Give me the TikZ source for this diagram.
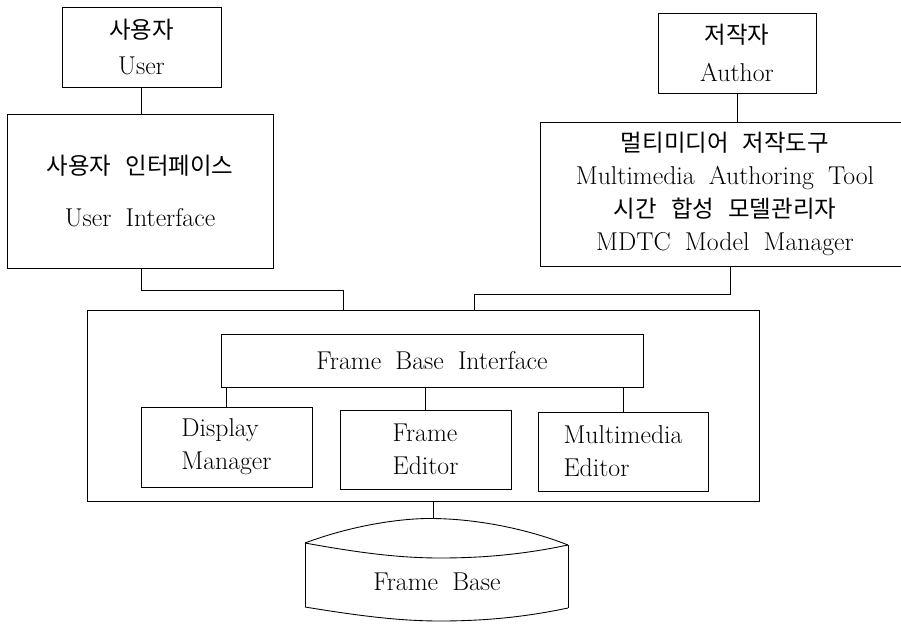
\documentclass[tikz,border=0pt]{standalone}
\usepackage{fontspec}
\newfontfamily\kr[WordSpace=1.8]{Noto Sans CJK KR}
\newcommand{\hg}[1]{{\kr\fontsize{20}{28}\selectfont #1}}
\newcommand{\lfont}{\fontsize{22}{28}\selectfont\spaceskip=0.55em\relax}
\tikzset{
  blk/.style={draw, inner sep=0pt, align=center, font=\lfont},
  sz/.style 2 args={minimum width=#1*0.03cm, minimum height=#2*0.03cm},
}

\begin{document}
\begin{tikzpicture}[x=0.03cm,y=-0.03cm,line width=0.75pt]
\clip (0,0) rectangle (901,624);
% top boxes
\node[blk,sz={159}{80}] (user) at (141.5,47) {\hg{사용자}\\[2pt]User};
\node[blk,sz={266}{154}] (ui) at (140,191) {\hg{사용자 인터페이스}\\[16pt]User Interface};
\node[blk,sz={158}{80}] (author) at (737,53) {\hg{저작자}\\[4pt]Author};
\node[blk,sz={370}{144}] (mat) at (725,194) {\hg{멀티미디어 저작도구}\\Multimedia Authoring Tool\\\hg{시간 합성 모델관리자}\\MDTC Model Manager};
\draw (user.south) -- (user.south |- ui.north);
\draw (author.south) -- (author.south |- mat.north);
% frame base system
\node[draw,sz={672}{191}] (panel) at (423,405.5) {};
\node[blk,sz={422}{53}] (fbi) at (432,360.5) {Frame Base Interface};
\node[blk,align=left,sz={171}{80}] (disp) at (226.5,447) {Display\\Manager};
\node[blk,align=left,sz={171}{79}] (fedit) at (425.5,449.5) {Frame\\Editor};
\node[blk,align=left,sz={170}{79}] (medit) at (623,451.5) {Multimedia\\Editor};
\foreach\b in {disp,fedit,medit}{
	\draw (\b.north) -- (\b.north |- fbi.south);
}
\draw (ui.south -| user.south) -- ++(0,22) -| ([xshift=-2.4cm]panel.north);
\draw ([xshift=0.15cm]mat.south) -- ++(0,28) -| ([xshift=1.53cm]panel.north);
% database
\coordinate (dbtop) at (433,518.5);
\draw (dbtop |- panel.south) -- (dbtop);
\draw (305,543) .. controls (350,526) and (400,518) .. (dbtop) .. controls (480,519) and (530,530) .. (568,545);
\draw (305,543) .. controls (360,553) and (400,558) .. (440,558) .. controls (490,558) and (530,553) .. (568,545);
\draw (305,543) -- (305,607);
\draw (568,545) -- (568,608);
\draw (305,607) .. controls (360,616) and (400,621) .. (440,621) .. controls (490,621) and (530,616) .. (568,608);
\node[font=\lfont] (fbase) at (437,582) {Frame Base};
\end{tikzpicture}
\end{document}
